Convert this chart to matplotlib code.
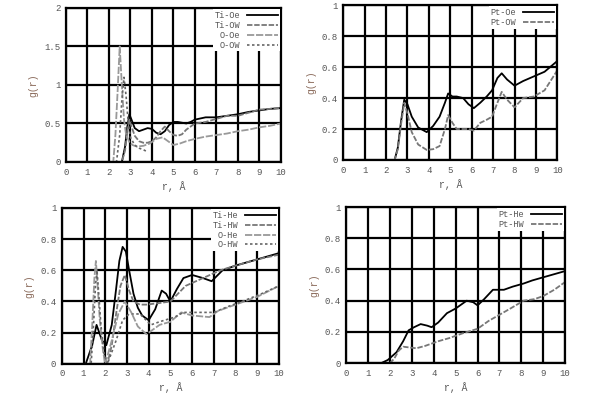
import matplotlib
matplotlib.use('Agg')
import matplotlib.pyplot as plt

# panel a: Ti/O with Oe, OW
r_a1 = [0, 2.6, 2.75, 2.85, 2.95, 3.05, 3.2, 3.4, 3.6, 3.8, 4.0, 4.2, 4.4, 4.6, 4.8, 5.0, 5.2, 5.4, 5.6, 5.8, 6.0, 6.5, 7.0, 7.5, 8.0, 8.5, 9.0, 9.5, 10]
ti_oe = [0, 0, 0.2, 0.45, 0.62, 0.55, 0.44, 0.4, 0.42, 0.44, 0.43, 0.38, 0.36, 0.4, 0.48, 0.52, 0.52, 0.51, 0.5, 0.52, 0.55, 0.58, 0.58, 0.6, 0.62, 0.65, 0.67, 0.69, 0.7]
ti_ow = [0, 0, 0.15, 0.38, 0.55, 0.46, 0.34, 0.27, 0.25, 0.25, 0.27, 0.32, 0.4, 0.46, 0.4, 0.35, 0.34, 0.36, 0.42, 0.46, 0.5, 0.52, 0.56, 0.6, 0.6, 0.64, 0.68, 0.69, 0.7]
r_a2 = [0, 2.2, 2.3, 2.4, 2.5, 2.6, 2.7, 2.8, 2.95, 3.1, 3.3, 3.6, 3.9, 4.2, 4.5, 4.8, 5.0, 5.3, 5.6, 6.0, 6.5, 7.0, 7.5, 8.0, 8.5, 9.0, 9.5, 10]
o_oe = [0, 0, 0.35, 0.9, 1.5, 1.0, 0.55, 0.35, 0.26, 0.22, 0.2, 0.21, 0.24, 0.3, 0.32, 0.26, 0.22, 0.24, 0.27, 0.3, 0.33, 0.35, 0.37, 0.4, 0.42, 0.45, 0.47, 0.5]
r_a3 = [0, 2.35, 2.5, 2.6, 2.7, 2.8, 2.9, 3.0, 3.2, 3.4, 3.6, 3.8]
o_ow = [0, 0, 0.35, 0.8, 1.1, 0.85, 0.5, 0.32, 0.22, 0.18, 0.16, 0.13]

# panel b: Pt with Oe, OW
r_b = [0, 2.4, 2.55, 2.7, 2.85, 3.0, 3.2, 3.5, 3.9, 4.2, 4.5, 4.75, 4.9, 5.1, 5.3, 5.6, 5.85, 6.1, 6.4, 6.7, 6.95, 7.2, 7.4, 7.65, 8.0, 8.4, 8.9, 9.4, 10]
pt_oe = [0, 0, 0.08, 0.25, 0.39, 0.36, 0.28, 0.21, 0.18, 0.22, 0.28, 0.37, 0.43, 0.41, 0.41, 0.4, 0.36, 0.335, 0.37, 0.41, 0.45, 0.53, 0.56, 0.52, 0.48, 0.51, 0.54, 0.57, 0.64]
pt_ow = [0, 0, 0.07, 0.23, 0.37, 0.3, 0.18, 0.1, 0.065, 0.07, 0.09, 0.2, 0.29, 0.24, 0.2, 0.2, 0.2, 0.19, 0.24, 0.26, 0.28, 0.37, 0.44, 0.39, 0.34, 0.4, 0.41, 0.45, 0.58]

# panel c: Ti/O with He, HW
r_c1 = [0, 1.1, 1.4, 1.6, 1.85, 2.05, 2.3, 2.5, 2.65, 2.8, 2.95, 3.1, 3.3, 3.5, 3.7, 4.0, 4.3, 4.6, 4.8, 5.0, 5.3, 5.6, 6.0, 6.5, 6.9, 7.4, 8.0, 9.0, 10]
ti_he = [0, 0, 0.12, 0.25, 0.15, 0.12, 0.25, 0.48, 0.66, 0.75, 0.72, 0.6, 0.45, 0.36, 0.31, 0.28, 0.35, 0.47, 0.45, 0.4, 0.48, 0.55, 0.57, 0.55, 0.53, 0.6, 0.63, 0.67, 0.71]
r_c2 = [0, 2.1, 2.3, 2.5, 2.7, 2.9, 3.1, 3.3, 3.6, 3.9, 4.5, 5.0, 5.7, 6.5, 7.3, 8.0, 9.0, 10]
ti_hw = [0, 0, 0.12, 0.32, 0.5, 0.57, 0.47, 0.4, 0.38, 0.38, 0.39, 0.4, 0.5, 0.55, 0.6, 0.63, 0.67, 0.7]
r_c3 = [0, 1.3, 1.4, 1.5, 1.57, 1.65, 1.75, 1.9, 2.0, 2.3, 2.6, 2.9, 3.2, 3.5, 3.9, 4.5, 5.0, 5.5, 6.0, 6.8, 7.2, 8.0, 9.0, 10]
o_he = [0, 0, 0.25, 0.55, 0.66, 0.5, 0.28, 0.08, 0, 0.15, 0.32, 0.4, 0.33, 0.24, 0.19, 0.25, 0.27, 0.33, 0.31, 0.3, 0.34, 0.38, 0.43, 0.5]
r_c4 = [0, 1.35, 1.45, 1.55, 1.62, 1.7, 1.8, 1.95, 2.1, 2.5, 2.8, 3.1, 3.6, 4.1, 4.5, 5.2, 5.6, 6.2, 7.0, 7.7, 8.3, 9.2, 10]
o_hw = [0, 0, 0.22, 0.5, 0.6, 0.45, 0.25, 0.06, 0, 0.15, 0.28, 0.32, 0.32, 0.25, 0.27, 0.3, 0.33, 0.33, 0.33, 0.37, 0.4, 0.45, 0.5]

# panel d: Pt with He, HW
r_d1 = [0, 1.6, 1.9, 2.3, 2.6, 2.85, 3.1, 3.4, 3.7, 3.9, 4.2, 4.6, 5.0, 5.5, 5.8, 6.0, 6.3, 6.7, 7.2, 7.6, 8.1, 8.5, 9.0, 9.5, 10]
pt_he = [0, 0, 0.02, 0.07, 0.14, 0.21, 0.23, 0.25, 0.24, 0.23, 0.26, 0.32, 0.35, 0.4, 0.39, 0.37, 0.41, 0.47, 0.47, 0.49, 0.51, 0.53, 0.55, 0.57, 0.59]
r_d2 = [0, 2.0, 2.2, 2.4, 2.6, 2.9, 3.2, 3.6, 4.2, 4.7, 5.3, 6.0, 6.5, 7.0, 7.5, 8.1, 8.6, 9.0, 9.5, 10]
pt_hw = [0, 0, 0.03, 0.08, 0.105, 0.1, 0.095, 0.11, 0.14, 0.16, 0.19, 0.22, 0.27, 0.31, 0.35, 0.4, 0.41, 0.43, 0.47, 0.52]

mono = 'Liberation Mono'
grey = '#555555'

fig = plt.figure(figsize=(6, 3.99), dpi=100)
axes = [fig.add_axes([0.11, 0.594, 0.358, 0.386]),
        fig.add_axes([0.572, 0.599, 0.357, 0.388]),
        fig.add_axes([0.103, 0.088, 0.362, 0.391]),
        fig.add_axes([0.577, 0.090, 0.365, 0.391])]

solid = dict(color='black', lw=1.3, ls='-')
dash = dict(color='#777777', lw=1.3, ls=(0, (3, 1)))
gdash = dict(color='#999999', lw=1.3, ls=(0, (4, 1)))
dot = dict(color='#666666', lw=1.2, ls=(0, (1.5, 1.5)))

ax = axes[0]
ax.plot(r_a1, ti_oe, label='Ti-Oe', **solid)
ax.plot(r_a1, ti_ow, label='Ti-OW', **dash)
ax.plot(r_a2, o_oe, label='O-Oe', **gdash)
ax.plot(r_a3, o_ow, label='O-OW', **dot)

ax = axes[1]
ax.plot(r_b, pt_oe, label='Pt-Oe', **solid)
ax.plot(r_b, pt_ow, label='Pt-OW', **dash)

ax = axes[2]
ax.plot(r_c1, ti_he, label='Ti-He', **solid)
ax.plot(r_c2, ti_hw, label='Ti-HW', **dash)
ax.plot(r_c3, o_he, label='O-He', **gdash)
ax.plot(r_c4, o_hw, label='O-HW', **dot)

ax = axes[3]
ax.plot(r_d1, pt_he, label='Pt-He', **solid)
ax.plot(r_d2, pt_hw, label='Pt-HW', **dash)

for i, ax in enumerate(axes):
    ax.set_xlim(0, 10)
    ax.set_xticks(range(0, 11))
    if i == 0:
        ax.set_ylim(0, 2)
        ax.set_yticks([0, 0.5, 1, 1.5, 2])
        ax.set_yticklabels(['0', '0.5', '1', '1.5', '2'])
    else:
        ax.set_ylim(0, 1)
        ax.set_yticks([0, 0.2, 0.4, 0.6, 0.8, 1])
        ax.set_yticklabels(['0', '0.2', '0.4', '0.6', '0.8', '1'])
    ax.grid(True, color='black', lw=1.6)
    for s in ax.spines.values():
        s.set_linewidth(1.6)
    ax.tick_params(length=0, labelsize=6.5, labelcolor=grey, pad=4)
    for lab in ax.get_xticklabels() + ax.get_yticklabels():
        lab.set_family(mono)
    ax.set_xlabel('r, Å', family=mono, fontsize=7, color=grey, labelpad=3)
    ax.set_ylabel('g(r)', family=mono, fontsize=7, color='#8a6a5a', labelpad=4)
    leg = ax.legend(loc='upper right', markerfirst=False, frameon=True, fancybox=False,
                    prop={'family': mono, 'size': 6.2}, handlelength=3.6,
                    labelspacing=0.1, borderpad=0.2, borderaxespad=0.15)
    leg.get_frame().set_facecolor('white')
    leg.get_frame().set_edgecolor('none')
    leg.get_frame().set_alpha(1)
    for t in leg.get_texts():
        t.set_color(grey)

fig.savefig('out.png', dpi=100)
